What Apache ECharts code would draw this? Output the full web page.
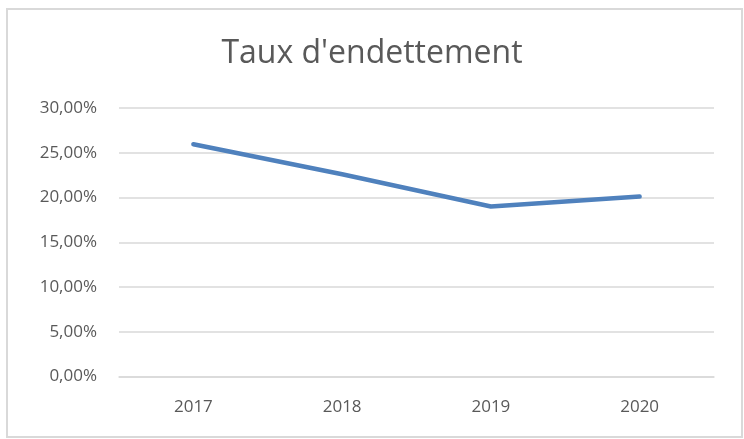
<!DOCTYPE html>
<html>
<head>
<meta charset="utf-8">
<script src="https://cdn.jsdelivr.net/npm/echarts@6/dist/echarts.min.js"></script>
<style>
html, body { margin: 0; padding: 0; background: #fff; }
#chart { width: 744px; height: 439px; }
</style>
</head>
<body>
<div id="chart"></div>
<script>
var years = ['2017', '2018', '2019', '2020']
var tauxEndettement = [25.95, 22.6, 19.0, 20.1]
var chartTitle = "Taux d'endettement"

var chart = echarts.init(document.getElementById('chart'))

var textFont = '"Open Sans", "Noto Sans", sans-serif'

chart.setOption({
    animation: false,
    backgroundColor: '#fff',
    title: {
        text: chartTitle,
        left: 'center',
        top: 33,
        textStyle: {
            color: '#595959',
            fontSize: 32,
            fontWeight: 'normal',
            fontFamily: textFont
        }
    },
    graphic: [{
        type: 'rect',
        shape: { x: 7, y: 9, width: 735, height: 428 },
        style: { fill: 'none', stroke: '#d9d9d9', lineWidth: 2 },
        silent: true
    }],
    grid: {
        left: 119,
        right: 30,
        top: 108,
        bottom: 62.5
    },
    xAxis: {
        type: 'category',
        data: years,
        axisTick: { show: false },
        axisLine: { lineStyle: { color: '#d9d9d9', width: 1.5 } },
        axisLabel: {
            color: '#595959',
            fontSize: 17,
            fontFamily: textFont,
            margin: 22
        }
    },
    yAxis: {
        type: 'value',
        min: 0,
        max: 30,
        interval: 5,
        axisLine: { show: false },
        axisTick: { show: false },
        splitLine: { lineStyle: { color: '#d9d9d9', width: 1.5 } },
        axisLabel: {
            color: '#595959',
            fontSize: 17,
            fontFamily: textFont,
            margin: 22,
            formatter: function (v) {
                return v.toFixed(2).replace('.', ',') + '%'
            }
        }
    },
    series: [{
        type: 'line',
        data: tauxEndettement,
        showSymbol: false,
        lineStyle: { color: '#4f81bd', width: 4.5, cap: 'round', join: 'round' },
        itemStyle: { color: '#4f81bd' }
    }]
})
</script>
</body>
</html>
